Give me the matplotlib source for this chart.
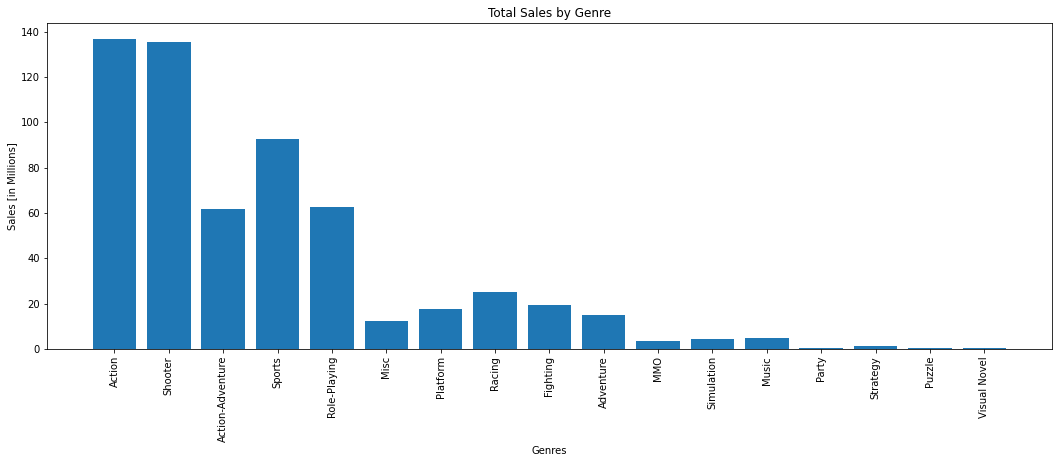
import matplotlib
matplotlib.use('Agg')
import matplotlib.pyplot as plt

genres = ['Action', 'Shooter', 'Action-Adventure', 'Sports', 'Role-Playing', 'Misc',
          'Platform', 'Racing', 'Fighting', 'Adventure', 'MMO', 'Simulation', 'Music',
          'Party', 'Strategy', 'Puzzle', 'Visual Novel']
sales = [136.9, 135.3, 61.8, 92.7, 62.7, 12.4, 17.7, 25.2, 19.4, 15.0,
         3.7, 4.5, 5.0, 0.6, 1.4, 0.5, 0.5]

dpi = 72
fig, ax = plt.subplots(figsize=(1058 / dpi, 464 / dpi), dpi=dpi)
fig.subplots_adjust(left=0.0445, right=0.994, top=0.950, bottom=0.248)

ax.bar(genres, sales, color='#1f77b4')
ax.set_title('Total Sales by Genre')
ax.set_xlabel('Genres')
ax.set_ylabel('Sales [in Millions]')
plt.xticks(rotation=90)

fig.savefig('out.png', dpi=dpi)
